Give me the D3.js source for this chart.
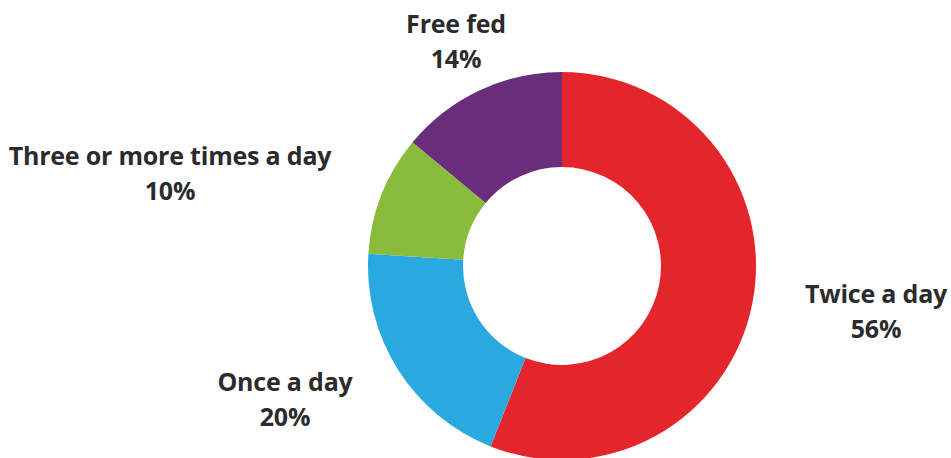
<!DOCTYPE html>
<html>
<head>
<meta charset="utf-8">
<script src="https://cdn.jsdelivr.net/npm/d3@7"></script>
<style>
  html, body { margin: 0; padding: 0; background: #ffffff; }
  svg { display: block; }
  .lbl { font-family: "Open Sans", sans-serif; font-weight: 700; fill: #2b2b2d; letter-spacing: -0.2px; }
</style>
</head>
<body>
<svg id="chart" width="951" height="458"></svg>
<script>
// Feeding frequency shares (percent)
const categories = ["Twice a day", "Once a day", "Three or more times a day", "Free fed"];
const values = [56, 20, 10, 14];
const colors = ["#e4252b", "#2aa9e0", "#8bbb3d", "#6a2d7b"];
// Label anchor points (label centre, first-line baseline)
const labelX = [876, 285, 170, 456];
const labelY = [303, 391, 165, 33];

const svg = d3.select("#chart");
const cx = 562, cy = 266, rOuter = 194, rInner = 99;

const pie = d3.pie().sort(null).value(d => d)(values);
const arc = d3.arc().innerRadius(rInner).outerRadius(rOuter);

const g = svg.append("g").attr("transform", `translate(${cx},${cy})`);
g.selectAll("path")
  .data(pie)
  .join("path")
  .attr("d", arc)
  .attr("fill", (d, i) => colors[i]);

const labels = svg.append("g");
categories.forEach((c, i) => {
  const t = labels.append("text")
    .attr("class", "lbl")
    .attr("text-anchor", "middle")
    .attr("font-size", 25);
  t.append("tspan").attr("x", labelX[i]).attr("y", labelY[i]).text(c);
  t.append("tspan").attr("x", labelX[i]).attr("y", labelY[i] + 35).text(values[i] + "%");
});
</script>
</body>
</html>
